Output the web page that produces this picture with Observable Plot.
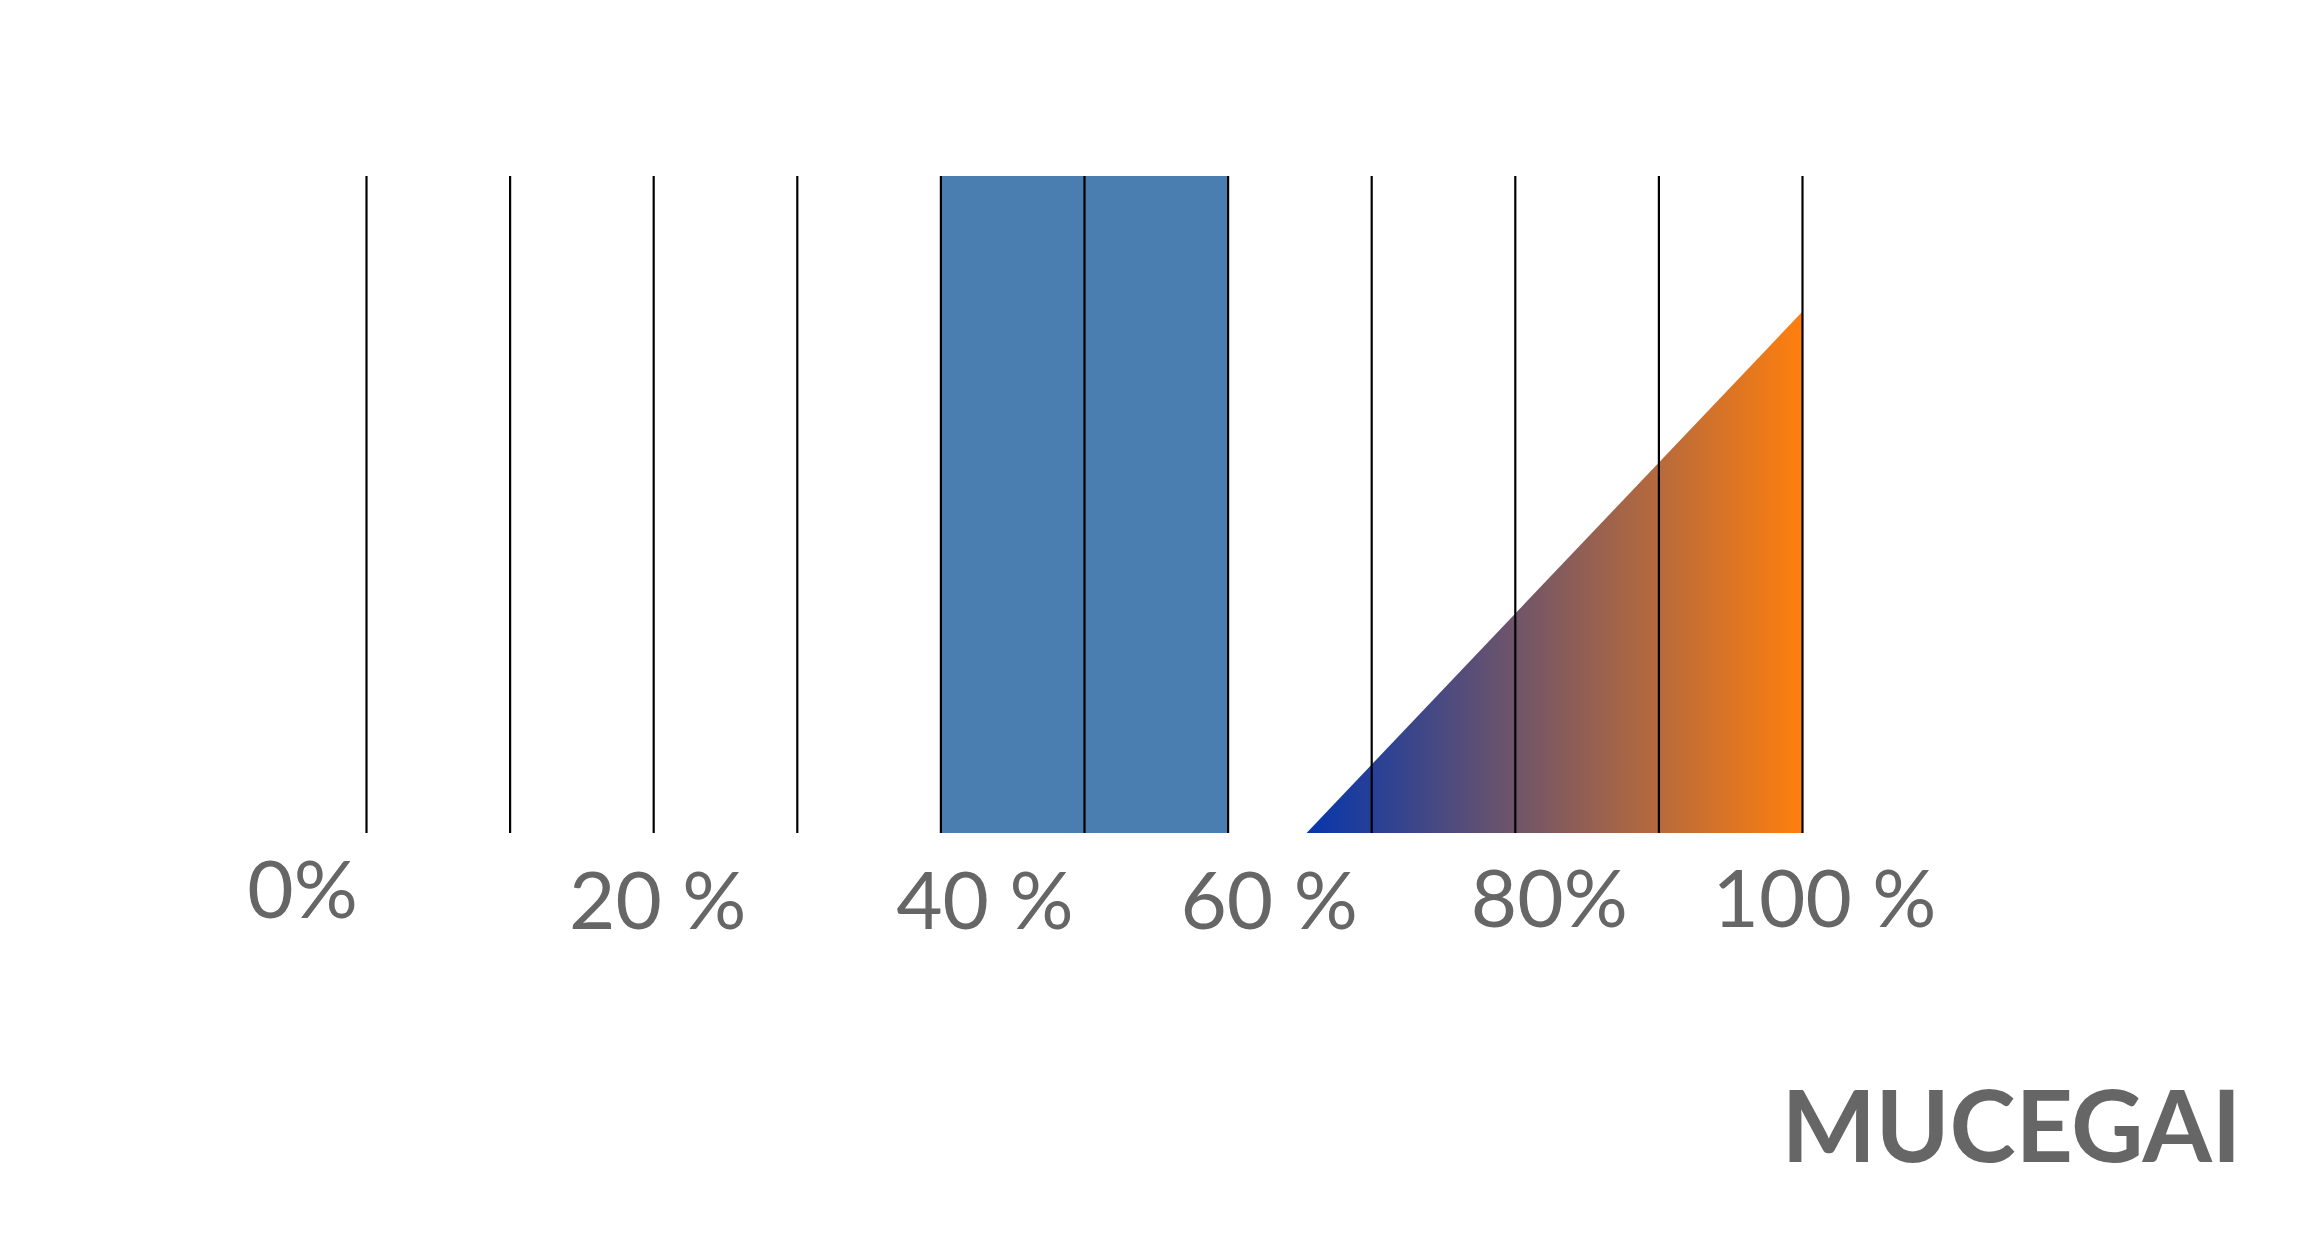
<!DOCTYPE html>
<html>
<head>
<meta charset="utf-8">
<script src="https://cdn.jsdelivr.net/npm/d3@7"></script>
<script src="https://cdn.jsdelivr.net/npm/@observablehq/plot@0.6"></script>
<style>
  html, body { margin: 0; padding: 0; background: #fff; overflow: hidden; }
  #wrap { position: relative; width: 2318px; height: 1248px; }
  #brand {
    position: absolute; right: 77px; top: 1073px;
    font-family: Lato, "Open Sans", sans-serif; font-weight: 700;
    font-size: 100px; line-height: 100px; color: #666666; letter-spacing: -0.3px;
  }
</style>
</head>
<body>
<div id="wrap"><div id="chart"></div><div id="brand">MUCEGAI</div></div>
<script>
// ---- data ----
const gridTicks = [0, 10, 20, 30, 40, 50, 60, 70, 80, 90, 100];
const labelValues = [0, 20, 40, 60, 80, 100];
const labelTexts = ["0%", "20 %", "40 %", "60 %", "80%", "100 %"];
const bandStart = [40];
const bandEnd = [60];
const bandTop = [1];
const rampX = [65.5, 100];
const rampY = [0, 0.793];

// ---- styling (label nudges, px) ----
const labelDx = [-64, 4, 44, 41, 34, 22];
const labelDy = [59, 70, 70, 70, 68, 68];

const bands = bandStart.map((s, i) => ({x1: s, x2: bandEnd[i], y1: 0, y2: bandTop[i]}));
const ramp = rampX.map((x, i) => ({x, y: rampY[i]}));

const gradientDefs = () => {
  const defs = d3.create("svg:defs");
  const g = defs.append("linearGradient").attr("id", "rampGrad")
    .attr("x1", "0").attr("x2", "1").attr("y1", "0").attr("y2", "0");
  g.append("stop").attr("offset", "0%").attr("stop-color", "#0636ac");
  g.append("stop").attr("offset", "100%").attr("stop-color", "#ff7f0e");
  return defs.node();
};

const labelMarks = labelValues.map((v, i) => Plot.text([v], {
  x: d => d,
  text: () => labelTexts[i],
  frameAnchor: "bottom",
  lineAnchor: "middle",
  textAnchor: "middle",
  dx: labelDx[i],
  dy: labelDy[i],
  fontSize: 80,
  fill: "#666666",
  fontFamily: "Lato, 'Open Sans', sans-serif"
}));

const chart = Plot.plot({
  width: 2318,
  height: 1248,
  marginLeft: 366,
  marginRight: 516,
  marginTop: 176,
  marginBottom: 415,
  x: {domain: [0, 100], axis: null},
  y: {domain: [0, 1], axis: null},
  style: {background: "#fff", fontFamily: "Lato, sans-serif", overflow: "visible"},
  marks: [
    gradientDefs,
    Plot.rect(bands, {x1: "x1", x2: "x2", y1: "y1", y2: "y2", fill: "#4a7db0"}),
    Plot.areaY(ramp, {x: "x", y: "y", fill: "url(#rampGrad)"}),
    Plot.ruleX(gridTicks, {stroke: "#000", strokeWidth: 2.2}),
    ...labelMarks
  ]
});
document.getElementById("chart").append(chart);
</script>
</body>
</html>
